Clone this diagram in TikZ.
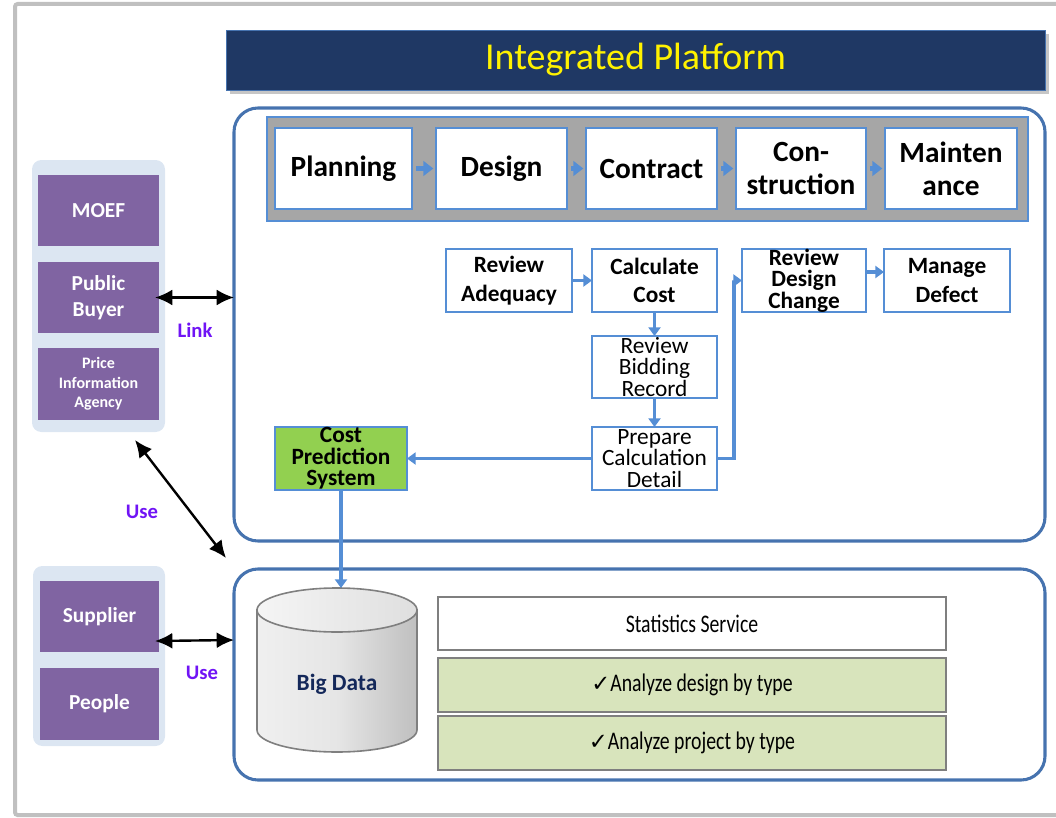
\documentclass[tikz,border=0pt]{standalone}
\usepackage{fontspec}
\setmainfont{Carlito}
\newfontfamily\symfont{DejaVu Sans}
\newfontfamily\condfont[FakeStretch=0.78]{Carlito}
\usetikzlibrary{arrows.meta,fit,shadows,calc}
\definecolor{navy}{RGB}{31,56,100}
\definecolor{platblue}{RGB}{70,115,175}
\definecolor{lblue}{RGB}{85,142,213}
\definecolor{stripgray}{RGB}{166,166,166}
\definecolor{purp}{RGB}{128,100,162}
\definecolor{panelbg}{RGB}{220,230,242}
\definecolor{cgreen}{RGB}{146,208,80}
\definecolor{lgreen}{RGB}{216,228,188}
\definecolor{bgray}{RGB}{127,127,127}
\definecolor{violet}{RGB}{112,20,245}
\definecolor{framegray}{RGB}{192,192,192}
\definecolor{bdnavy}{RGB}{20,40,90}
\tikzset{
  fbox/.style={inner sep=0pt, outer sep=0pt},
  txt/.style={align=center, inner sep=0pt},
  phasebox/.style={fbox, draw=lblue, fill=white, line width=0.8pt},
  phasetext/.style={txt, font=\bfseries\fontsize{22}{25}\selectfont},
  stepbox/.style={fbox, draw=lblue, fill=white, line width=1.2pt},
  steptext/.style={txt, font=\bfseries\fontsize{17.5}{21.5}\selectfont},
  tighttext/.style={txt, font=\fontsize{17.5}{16}\selectfont},
  tightboldtext/.style={txt, font=\bfseries\fontsize{17.5}{16}\selectfont},
  actor/.style={fbox, fill=purp},
  actortext/.style={txt, text=white, font=\bfseries\fontsize{16}{19.5}\selectfont},
  panel/.style={fill=panelbg, rounded corners=7pt},
  bigbox/.style={fbox, draw=platblue, line width=2.3pt, rounded corners=18pt},
  statbox/.style={fbox, draw=bgray, line width=1.2pt},
  stattext/.style={txt, font=\condfont\fontsize{19}{22}\selectfont},
  barrow/.style={draw=lblue, line width=2.8pt, -{Triangle[width=9pt,length=6.5pt]}},
  phasearrow/.style={draw=lblue, line width=3.8pt, -{Triangle[width=11pt,length=7.5pt]}, shorten <=3pt, shorten >=2pt},
  karrow/.style={draw=black, line width=1.8pt, {Latex[length=13pt,width=12pt]}-{Latex[length=13pt,width=12pt]}},
  vlabel/.style={text=violet, font=\bfseries\fontsize{15.5}{18}\selectfont},
}
\newcommand\chk{{\symfont\fontsize{17}{17}\selectfont ✓}}
\begin{document}
\begin{tikzpicture}[x=0.75pt,y=-0.75pt]
\useasboundingbox (0,0) rectangle (1056,817);
% outer frame
\draw[framegray, line width=3pt, rounded corners=2pt] (1056,4) -- (15,4) -- (15,815) -- (1056,815);

% title
\node[fbox, fill=navy, draw=platblue, line width=0.6pt, drop shadow={opacity=0.45, shadow xshift=3pt, shadow yshift=-3pt},
  fit={(226,30)(1045,90)}, label={[txt, text=yellow, font=\fontsize{28.5}{30}\selectfont]center:Integrated Platform}] (title) {};

% platform box
\node[bigbox, fit={(234,108)(1045,541)}] (plat) {};
\node[fbox, fill=stripgray, draw=lblue, line width=0.8pt, fit={(267,117)(1028,221)}] (strip) {};

\node[phasebox, fit={(275,128)(412,209)}, label={[phasetext]center:Planning}] (plan) {};
\node[phasebox, fit={(436,128)(567,209)}, label={[phasetext]center:Design}] (design) {};
\node[phasebox, fit={(586,128)(717,209)}, label={[phasetext]center:Contract}] (contract) {};
\node[phasebox, fit={(736,128)(866,209)}, label={[phasetext]center:Con-\\struction}] (constr) {};
\node[phasebox, fit={(885,128)(1017,209)}, label={[phasetext]center:Mainten\\ance}] (maint) {};
\draw[phasearrow] (plan.east) -- (design.west);
\draw[phasearrow] (design.east) -- (contract.west);
\draw[phasearrow] (contract.east) -- (constr.west);
\draw[phasearrow] (constr.east) -- (maint.west);

\node[stepbox, fit={(446,249)(572,312)}, label={[steptext]center:Review\\Adequacy}] (ra) {};
\node[stepbox, fit={(592,249)(717,312)}, label={[steptext]center:Calculate\\Cost}] (cc) {};
\node[stepbox, fit={(742,249)(866,312)}, label={[tightboldtext]center:Review\\Design\\Change}] (rdc) {};
\node[stepbox, fit={(884,249)(1010,312)}, label={[steptext]center:Manage\\Defect}] (md) {};
\node[stepbox, fit={(592,336)(717,398)}, label={[tighttext]center:Review\\Bidding\\Record}] (rbr) {};
\node[stepbox, fit={(592,427)(717,490)}, label={[tighttext]center:Prepare\\Calculation\\Detail}] (prep) {};
\node[stepbox, fill=cgreen, fit={(275,427)(407,490)}, label={[tightboldtext]center:Cost\\Prediction\\System}] (cps) {};

\draw[barrow] (ra.east) -- (cc.west);
\draw[barrow] (cc.south) -- (rbr.north);
\draw[barrow] (rbr.south) -- (prep.north);
\draw[barrow] (prep.west) -- (cps.east);
\draw[barrow] (prep.east) -- ++(17,0) |- (rdc.west);
\draw[barrow] (rdc.east |- 0,272) -- (md.west |- 0,272);

% bottom box
\node[bigbox, fit={(234,569)(1045,780)}] (data) {};

% cylinder
\shade[left color=gray!12, right color=gray!50, middle color=gray!20, draw=bgray, line width=1.2pt]
  (257,610) -- (257,730) arc[start angle=180, end angle=0, x radius=80, y radius=22] -- (417,610) -- cycle;
\shade[left color=gray!8, right color=gray!25, draw=bgray, line width=1.2pt] (337,610) ellipse[x radius=80, y radius=22];
\coordinate (bdtop) at (337,588);
\node[text=bdnavy, font=\bfseries\fontsize{17.5}{20}\selectfont] (bigdata) at (337,684) {Big Data};
\draw[barrow] (cps.south) -- (cps.south |- bdtop);

\node[statbox, fill=white, fit={(438,597)(946,650)}, label={[stattext]center:Statistics Service}] (ss) {};
\node[statbox, fill=lgreen, fit={(438,658)(946,712)}, label={[stattext]center:\chk Analyze design by type}] (ad) {};
\node[statbox, fill=lgreen, fit={(438,716)(946,770)}, label={[stattext]center:\chk Analyze project by type}] (ap) {};

% left panels
\node[fbox, panel, fit={(32,160)(165,432)}] (grp1) {};
\node[actor, fit={(38,175)(159,246)}, label={[actortext]center:MOEF}] (moef) {};
\node[actor, fit={(38,262)(159,333)}, label={[actortext]center:Public\\Buyer}] (pb) {};
\node[actor, fit={(38,348)(159,420)}, label={[actortext, font=\bfseries\fontsize{12}{14.5}\selectfont]center:Price\\Information\\Agency}] (pia) {};

\node[fbox, panel, fit={(33,566)(165,746)}] (grp2) {};
\node[actor, fit={(40,581)(159,652)}, label={[actortext]center:Supplier}] (sup) {};
\node[actor, fit={(40,668)(159,740)}, label={[actortext]center:People}] (ppl) {};

% black links
\draw[karrow] ($(pb.east)+(-4,0)$) -- (plat.west |- pb.east);
\coordinate (u1) at (135,440);
\coordinate (u2) at (226,558);
\draw[karrow] (u1) -- (u2);
\draw[karrow] ($(sup.east |- 0,641)+(-4,0)$) -- (data.west |- 0,640);

\node[vlabel] (link) at (195,330) {Link};
\node[vlabel] (use1) at (142,512) {Use};
\node[vlabel] (use2) at (202,673) {Use};
\end{tikzpicture}
\end{document}
